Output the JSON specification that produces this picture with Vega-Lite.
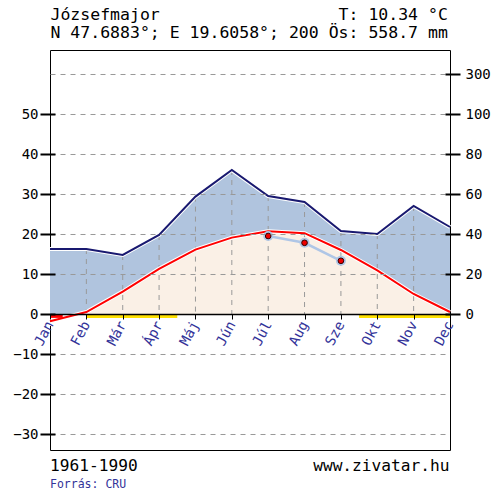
{
  "$schema": "https://vega.github.io/schema/vega-lite/v6.json",
  "width": 400,
  "height": 400,
  "autosize": {"type": "none"},
  "padding": {"left": 50, "right": 50, "top": 50, "bottom": 50},
  "background": "white",
  "config": {
    "font": "DejaVu Sans Mono",
    "view": {"stroke": "black", "strokeWidth": 1}
  },
  "title": {
    "text": "1961-1990\u00a0\u00a0\u00a0\u00a0\u00a0\u00a0\u00a0\u00a0\u00a0\u00a0\u00a0\u00a0\u00a0\u00a0\u00a0\u00a0\u00a0\u00a0www.zivatar.hu",
    "subtitle": "Forrás: CRU",
    "orient": "bottom",
    "anchor": "start",
    "frame": "group",
    "font": "DejaVu Sans Mono",
    "fontSize": 16.2,
    "fontWeight": "normal",
    "color": "black",
    "subtitleFont": "DejaVu Sans Mono",
    "subtitleFontSize": 11.5,
    "subtitleColor": "#333399",
    "subtitlePadding": 5,
    "offset": 8
  },
  "datasets": {
    "months": [
      {"m": 1, "T": -1.8, "P": 32.5},
      {"m": 2, "T": 0.5, "P": 32.5},
      {"m": 3, "T": 5.6, "P": 29.5},
      {"m": 4, "T": 11.3, "P": 39.5},
      {"m": 5, "T": 16.1, "P": 58.7},
      {"m": 6, "T": 19.1, "P": 72},
      {"m": 7, "T": 20.7, "P": 59},
      {"m": 8, "T": 20.2, "P": 56},
      {"m": 9, "T": 16.0, "P": 41.5},
      {"m": 10, "T": 10.9, "P": 40},
      {"m": 11, "T": 5.0, "P": 54},
      {"m": 12, "T": 0.5, "P": 43.5}
    ],
    "dots": [
      {"m": 7, "v": 19.5},
      {"m": 8, "v": 17.8},
      {"m": 9, "v": 13.3}
    ],
    "bars": [
      {"from": 2, "to": 4.5, "kind": "risk"},
      {"from": 9.5, "to": 12, "kind": "risk"},
      {"from": 1, "to": 1.35, "kind": "frost"}
    ]
  },
  "layer": [
    {
      "data": {"name": "months"},
      "mark": {"type": "area", "color": "#B0C4DE"},
      "encoding": {
        "x": {"field": "m", "type": "quantitative", "scale": {"domain": [1, 12], "nice": false, "zero": false},
          "axis": {"orient": "top", "labels": false, "ticks": false, "domain": false, "grid": false,
            "title": ["Józsefmajor\u00a0\u00a0\u00a0\u00a0\u00a0\u00a0\u00a0\u00a0\u00a0\u00a0\u00a0\u00a0\u00a0\u00a0\u00a0\u00a0\u00a0\u00a0T: 10.34 °C", "N 47.6883°; E 19.6058°; 200 Ös: 558.7 mm"],
            "titleX": 0, "titleY": -31, "titleAlign": "left", "titleAnchor": "start", "titleBaseline": "alphabetic",
            "titleFont": "DejaVu Sans Mono", "titleFontSize": 16.5, "titleFontWeight": "normal", "titleLineHeight": 18, "titleColor": "black"}},
        "y": {"field": "P", "type": "quantitative", "scale": {"domain": [-68, 132], "nice": false},
          "axis": {"orient": "right", "values": [0, 20, 40, 60, 80, 100, 120],
            "labelExpr": "datum.value == 120 ? '300' : datum.label",
            "offset": -5, "tickSize": 15, "tickWidth": 2, "tickColor": "black", "domain": false, "grid": false,
            "labelPadding": 5, "labelFont": "DejaVu Sans Mono", "labelFontSize": 14, "labelColor": "black",
            "title": null, "zindex": 1}}
      }
    },
    {
      "data": {"name": "months"},
      "mark": {"type": "area", "color": "#FAF0E6"},
      "encoding": {
        "x": {"field": "m", "type": "quantitative",
          "axis": {"orient": "bottom", "offset": -136, "values": [1,2,3,4,5,6,7,8,9,10,11,12],
            "labelExpr": "['Jan','Feb','Már','Ápr','Máj','Jún','Júl','Aug','Sze','Okt','Nov','Dec'][datum.value - 1]",
            "labelAngle": -62, "labelAlign": "right", "labelBaseline": "middle", "labelColor": "#333399",
            "labelFont": "DejaVu Sans Mono", "labelFontSize": 14, "labelPadding": 3, "labelFlush": false,
            "labelOverlap": false, "labelBound": false,
            "tickSize": 5, "tickColor": "black", "tickWidth": 1, "domainColor": "black", "domainWidth": 1.5,
            "grid": false, "title": null, "zindex": 1}},
        "y": {"field": "T", "type": "quantitative", "scale": {"domain": [-34, 66], "nice": false},
          "axis": {"orient": "left", "values": [-30, -20, -10, 0, 10, 20, 30, 40, 50, 60],
            "labelExpr": "datum.value == 60 ? '' : datum.label",
            "tickOpacity": {"condition": {"test": "datum.value == 60", "value": 0}, "value": 1},
            "offset": -5, "tickSize": 15, "tickWidth": 2, "tickColor": "black", "domain": false,
            "grid": true, "gridDash": [5, 5], "gridColor": "#999999", "gridWidth": 1,
            "labelPadding": 2, "labelFont": "DejaVu Sans Mono", "labelFontSize": 14, "labelColor": "black",
            "title": null, "zindex": 1}}
      }
    },
    {
      "data": {"values": [{}]},
      "mark": {"type": "rect", "color": "white"},
      "encoding": {
        "x": {"datum": 1, "type": "quantitative", "axis": null},
        "x2": {"datum": 1.6},
        "y": {"datum": -3, "type": "quantitative", "scale": {"domain": [-34, 66], "nice": false}, "axis": null},
        "y2": {"datum": 0}
      }
    },
    {
      "data": {"name": "months"},
      "transform": [{"filter": "datum.m > 1 && datum.m < 12"}],
      "mark": {"type": "rule", "color": "#999999", "strokeDash": [5, 5], "strokeWidth": 1},
      "encoding": {
        "x": {"field": "m", "type": "quantitative", "axis": null},
        "y": {"field": "P", "type": "quantitative", "scale": {"domain": [-68, 132], "nice": false}, "axis": null},
        "y2": {"datum": 0}
      }
    },
    {
      "data": {"name": "months"},
      "mark": {"type": "line", "color": "white", "strokeWidth": 4},
      "encoding": {
        "x": {"field": "m", "type": "quantitative", "axis": null},
        "y": {"field": "P", "type": "quantitative", "scale": {"domain": [-68, 132], "nice": false}, "axis": null}
      }
    },
    {
      "data": {"name": "months"},
      "mark": {"type": "line", "color": "#191970", "strokeWidth": 2},
      "encoding": {
        "x": {"field": "m", "type": "quantitative", "axis": null},
        "y": {"field": "P", "type": "quantitative", "scale": {"domain": [-68, 132], "nice": false}, "axis": null}
      }
    },
    {
      "data": {"name": "months"},
      "mark": {"type": "line", "color": "white", "strokeWidth": 4},
      "encoding": {
        "x": {"field": "m", "type": "quantitative", "axis": null},
        "y": {"field": "T", "type": "quantitative", "scale": {"domain": [-34, 66], "nice": false}, "axis": null}
      }
    },
    {
      "data": {"name": "months"},
      "mark": {"type": "line", "color": "#FF0000", "strokeWidth": 2},
      "encoding": {
        "x": {"field": "m", "type": "quantitative", "axis": null},
        "y": {"field": "T", "type": "quantitative", "scale": {"domain": [-34, 66], "nice": false}, "axis": null}
      }
    },
    {
      "data": {"name": "dots"},
      "mark": {"type": "line", "color": "#AFC6E6", "strokeWidth": 2.5},
      "encoding": {
        "x": {"field": "m", "type": "quantitative", "axis": null},
        "y": {"field": "v", "type": "quantitative", "scale": {"domain": [-34, 66], "nice": false}, "axis": null}
      }
    },
    {
      "data": {"name": "dots"},
      "mark": {"type": "point", "filled": true, "color": "#AFC6E6", "size": 100, "opacity": 1},
      "encoding": {
        "x": {"field": "m", "type": "quantitative", "axis": null},
        "y": {"field": "v", "type": "quantitative", "scale": {"domain": [-34, 66], "nice": false}, "axis": null}
      }
    },
    {
      "data": {"name": "dots"},
      "mark": {"type": "point", "filled": true, "fill": "#EE0000", "stroke": "#330000", "strokeWidth": 1, "size": 32, "opacity": 1},
      "encoding": {
        "x": {"field": "m", "type": "quantitative", "axis": null},
        "y": {"field": "v", "type": "quantitative", "scale": {"domain": [-34, 66], "nice": false}, "axis": null}
      }
    },
    {
      "data": {"name": "bars"},
      "mark": {"type": "rule", "strokeWidth": 3},
      "encoding": {
        "x": {"field": "from", "type": "quantitative", "axis": null},
        "x2": {"field": "to"},
        "y": {"datum": -0.6, "type": "quantitative", "scale": {"domain": [-34, 66], "nice": false}, "axis": null},
        "color": {"field": "kind", "type": "nominal", "scale": {"domain": ["risk", "frost"], "range": ["#FFE000", "#FF0000"]}, "legend": null}
      }
    }
  ],
  "resolve": {"scale": {"y": "independent"}, "axis": {"x": "independent", "y": "independent"}}
}
